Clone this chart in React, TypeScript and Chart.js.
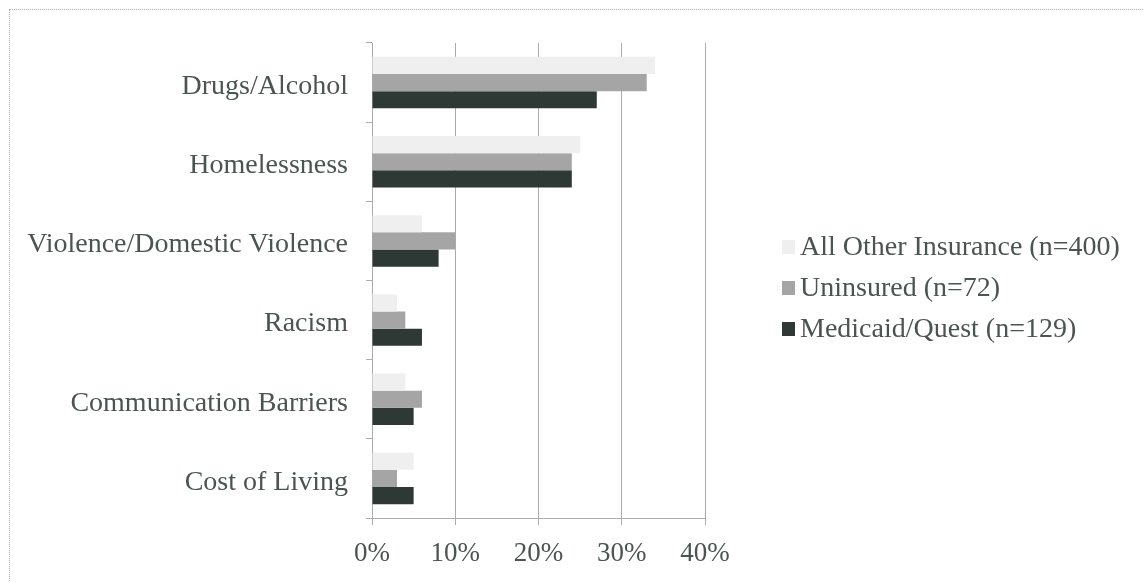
import React, { useEffect, useRef } from "react";
import { Chart, registerables } from "chart.js";

Chart.register(...registerables);

const categories = [
  "Drugs/Alcohol",
  "Homelessness",
  "Violence/Domestic Violence",
  "Racism",
  "Communication Barriers",
  "Cost of Living",
];
const allOther = [34, 25, 6, 3, 4, 5];
const uninsured = [33, 24, 10, 4, 6, 3];
const medicaid = [27, 24, 8, 6, 5, 5];
const seriesLabels = [
  "All Other Insurance (n=400)",
  "Uninsured (n=72)",
  "Medicaid/Quest (n=129)",
];
const xTicks = [0, 10, 20, 30, 40];

const FONT = "'Liberation Serif', serif";
const TEXT = "#4a5450";
const colors = ["#efefef", "#a5a5a5", "#2e3834"];

const legendPlugin = {
  id: "customLegend",
  afterDraw(chart: any) {
    const ctx = chart.ctx;
    ctx.save();
    ctx.font = `28px ${FONT}`;
    ctx.textBaseline = "middle";
    ctx.textAlign = "left";
    const ys = [247, 288, 329];
    chart.data.datasets.forEach((ds: any, i: number) => {
      const y = ys[i];
      ctx.fillStyle = ds.backgroundColor;
      ctx.fillRect(782, y - 7, 13, 14);
      ctx.fillStyle = TEXT;
      ctx.fillText(ds.label, 800, y + 1);
    });
    ctx.restore();
  },
};

export default function App() {
  const ref = useRef<HTMLCanvasElement>(null);
  useEffect(() => {
    if (!ref.current) return;
    const chart = new Chart(ref.current, {
      type: "bar",
      data: {
        labels: categories,
        datasets: [
          { label: seriesLabels[0], data: allOther, backgroundColor: colors[0] },
          { label: seriesLabels[1], data: uninsured, backgroundColor: colors[1] },
          { label: seriesLabels[2], data: medicaid, backgroundColor: colors[2] },
        ],
      },
      options: {
        indexAxis: "y",
        animation: false,
        responsive: false,
        events: [],
        layout: { padding: { left: 0, right: 439, top: 43, bottom: 0 } },
        datasets: { bar: { categoryPercentage: 0.65, barPercentage: 1.0 } },
        plugins: { legend: { display: false }, tooltip: { enabled: false } },
        scales: {
          x: {
            min: 0,
            max: 40,
            afterBuildTicks: (s: any) => {
              s.ticks = xTicks.map((v) => ({ value: v }));
            },
            afterFit: (s: any) => {
              s.height = 64;
            },
            grid: {
              color: "#ababab",
              lineWidth: 1,
              tickLength: 7,
              drawTicks: true,
            },
            border: { display: true, color: "#ababab" },
            ticks: {
              padding: 13,
              color: TEXT,
              font: { family: FONT, size: 27 },
              callback: (v: any) => `${v}%`,
            },
          },
          y: {
            afterFit: (s: any) => {
              s.width = 372;
            },
            grid: {
              display: true,
              drawOnChartArea: false,
              drawTicks: true,
              tickLength: 6,
              color: "#ababab",
            },
            border: { display: true, color: "#ababab" },
            ticks: {
              padding: 18,
              labelOffset: 4,
              color: TEXT,
              font: { family: FONT, size: 28 },
            },
          },
        },
      },
      plugins: [legendPlugin],
    } as any);
    return () => chart.destroy();
  }, []);

  return (
    <div
      style={{
        position: "fixed",
        left: 0,
        top: 0,
        width: 1144,
        height: 582,
        overflow: "hidden",
        background: "#fff",
      }}
    >
      <div
        style={{
          position: "absolute",
          left: 9,
          top: 9,
          width: 1200,
          height: 700,
          border: "1px dotted #b0b0b0",
        }}
      />
      <canvas
        ref={ref}
        width={1144}
        height={582}
        style={{ position: "absolute", left: 0, top: 0 }}
      />
    </div>
  );
}
